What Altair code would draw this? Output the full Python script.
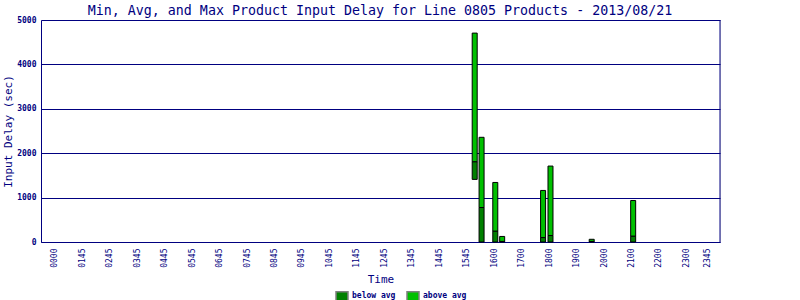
import altair as alt
import pandas as pd

# Bar positions (hour of day) and delay stats (seconds)
times = [15.29, 15.54, 16.04, 16.29, 17.78, 18.05, 19.55, 21.06]
min_delay = [1410, 0, 0, 0, 0, 0, 0, 0]
avg_delay = [1805, 777, 242, 12, 99, 145, 12, 129]
max_delay = [4705, 2358, 1341, 125, 1161, 1710, 61, 935]

tick_values = [0, 1, 2, 3, 4, 5, 6, 7, 8, 9, 10, 11, 12, 13, 14, 15,
               16, 17, 18, 19, 20, 21, 22, 23, 23.75]
tick_labels = ["0000", "0145", "0245", "0345", "0445", "0545", "0645", "0745",
               "0845", "0945", "1045", "1145", "1245", "1345", "1445", "1545",
               "1600", "1700", "1800", "1900", "2000", "2100", "2200", "2300", "2345"]

segments = ["below avg", "above avg"]
seg_colors = ["#008000", "#00C000"]
title_text = "Min, Avg, and Max Product Input Delay for Line 0805 Products - 2013/08/21"

rows = []
for t, lo, av, hi in zip(times, min_delay, avg_delay, max_delay):
    rows.append({"t": t, "seg": segments[0], "lo": lo, "hi": av})
    rows.append({"t": t, "seg": segments[1], "lo": av, "hi": hi})
df = pd.DataFrame(rows)

NAVY = "#000080"
FONT = "DejaVu Sans Mono"

label_expr = "[" + ",".join("'%s'" % s for s in tick_labels) + "][indexof([" + \
    ",".join(str(v) for v in tick_values) + "], datum.value)]"

bars = alt.Chart(df).mark_bar(size=5, stroke="black", strokeWidth=1).encode(
    x=alt.X("t:Q",
            scale=alt.Scale(domain=[-0.32, 24.04], nice=False, zero=False),
            axis=alt.Axis(values=tick_values, labelExpr=label_expr, labelAngle=-90,
                          labelFontSize=8, labelColor=NAVY, labelFont=FONT,
                          labelPadding=6, ticks=False, grid=False,
                          domainColor=NAVY, domainWidth=1, labelOverlap=False,
                          title="Time", titleFont=FONT, titleFontSize=11,
                          titleFontWeight="normal", titleColor=NAVY,
                          titleY=37, titleBaseline="middle")),
    y=alt.Y("lo:Q",
            scale=alt.Scale(domain=[0, 5000], nice=False),
            axis=alt.Axis(values=[0, 1000, 2000, 3000, 4000, 5000], format="d",
                          labelFontSize=8, labelFontWeight="bold", labelColor=NAVY,
                          labelFont=FONT, labelPadding=5, ticks=False,
                          grid=True, gridColor=NAVY, gridWidth=1,
                          domainColor=NAVY, domainWidth=1,
                          title="Input Delay (sec)", titleFont=FONT, titleFontSize=11,
                          titleFontWeight="normal", titleColor=NAVY,
                          titleX=-33, titleBaseline="middle")),
    y2="hi:Q",
    color=alt.Color("seg:N",
                    scale=alt.Scale(domain=segments, range=seg_colors),
                    legend=alt.Legend(orient="none", legendX=294, legendY=269,
                                      direction="horizontal", title=None,
                                      symbolType="M-1,-0.75H1V0.75H-1Z",
                                      symbolSize=144, symbolStrokeColor="#808080",
                                      symbolStrokeWidth=1.5, symbolOpacity=1,
                                      labelFont=FONT, labelFontSize=8,
                                      labelFontWeight="bold", labelColor=NAVY,
                                      labelOffset=3, columnPadding=8, padding=0)),
    order=alt.Order("seg:N"),
)

title = alt.Chart(pd.DataFrame({"txt": [title_text]})).mark_text(
    font=FONT, fontSize=13.3, color=NAVY, align="center", baseline="alphabetic"
).encode(x=alt.value(339), y=alt.value(-5), text="txt:N")

right_edge = alt.Chart(pd.DataFrame({"k": [0]})).mark_rule(color=NAVY, strokeWidth=1).encode(
    x=alt.value(679), y=alt.value(0), y2=alt.value(222))

chart = alt.layer(bars, right_edge, title).properties(
    width=679,
    height=222,
    autosize=alt.AutoSizeParams(type="none"),
    padding={"left": 41, "top": 20, "right": 80, "bottom": 58},
).configure_view(stroke=NAVY, strokeWidth=1).configure(background="white")

chart.save("out.html", embed_options={"renderer": "svg", "actions": False})
